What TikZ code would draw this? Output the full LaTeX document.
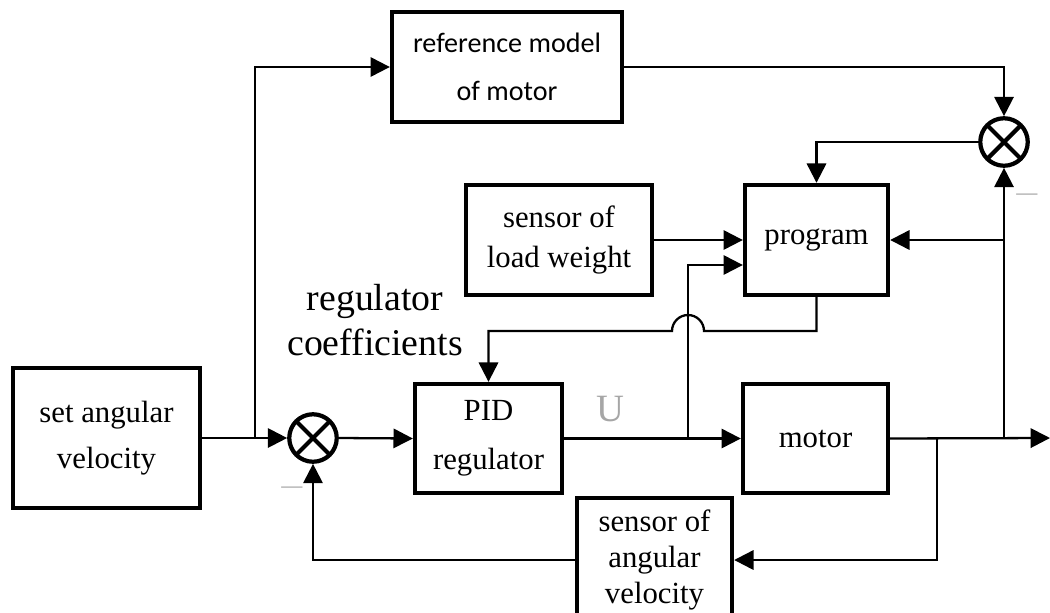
\documentclass[tikz,border=0pt]{standalone}
\usepackage{fontspec}
\setmainfont{Liberation Serif}
\newfontfamily\calibrifont{Carlito}
\usetikzlibrary{arrows.meta}

\begin{document}
\begin{tikzpicture}[
    x=0.02cm, y=-0.02cm,
    block/.style={rectangle, draw, line width=2.5pt, align=center, minimum height=2.2cm, font=\fontsize{17.5}{26}\selectfont},
    summer/.style={circle, draw, line width=2.4pt, minimum size=0.95cm, inner sep=0pt,
        path picture={\draw[line width=2.4pt] (path picture bounding box.north west) -- (path picture bounding box.south east)
            (path picture bounding box.north east) -- (path picture bounding box.south west);}},
    flow/.style={-{Triangle[length=11pt,width=11pt]}, line width=1.3pt},
    minus/.style={font=\fontsize{12}{12}\selectfont, text=gray!80}
]
\useasboundingbox (0,0) rectangle (1050,612);

% Blocks
\node[block, minimum width=3.74cm, minimum height=2.8cm] (setv) at (106.5,438) {set angular\\velocity};
\node[block, minimum width=4.6cm, font=\calibrifont\fontsize{16}{27}\selectfont] (refm) at (507,67) {reference model\\of motor};
\node[block, minimum width=3.72cm, font=\fontsize{17.5}{23}\selectfont] (load) at (559,240) {sensor of\\load weight};
\node[block, minimum width=2.86cm] (prog) at (816.5,240) {program};
\node[block, minimum width=2.94cm, minimum height=2.18cm, font=\fontsize{17.5}{28}\selectfont] (pid) at (488.5,438.5) {PID\\regulator};
\node[block, minimum width=2.9cm, minimum height=2.18cm] (motor) at (815.5,438.5) {motor};
\node[block, minimum width=3.1cm, minimum height=2.48cm, font=\fontsize{17.5}{20.5}\selectfont] (sav) at (654.5,560) {sensor of\\angular\\velocity};

% Summing points
\node[summer] (sum1) at (313,438) {};
\node[summer] (sum2) at (1004,142) {};
\node[minus] (m1) at (292,490) {---};
\node[minus] (m2) at (1027,197) {---};

% Labels
\node[font=\fontsize{21.5}{26}\selectfont, align=center] (coef) at (375,320) {regulator\\coefficients};
\node[font=\fontsize{22}{22}\selectfont, text=gray!70] (u) at (610,409) {U};

% Branch points
\coordinate (b1) at (255,438);
\coordinate (b2) at (688,438);
\coordinate (b3) at (1004,438);
\coordinate (b4) at (937,438);
\coordinate (hop) at (688,331);
\coordinate (out) at (1050,438);

% Forward path
\draw[flow] (setv.east) -- (sum1.west);
\draw[flow] (b1) |- (refm.west);
\draw[flow] (sum1.east) -- (pid.west);
\draw[flow] (pid.east) -- (motor.west);
\draw[flow] (motor.east) -- (out);

% Model and program loop
\draw[flow] (refm.east) -| (sum2.north);
\draw[flow] (sum2.west) -| (prog.north);
\draw[flow] (load.east) -- (prog.west);
\draw[flow] (b2) |- ([yshift=-0.5cm]prog.west);
\draw[flow] (b3) -- (sum2.south);
\draw[flow] (sum2.south |- prog.east) -- (prog.east);
\draw[flow] (prog.south) |- ([xshift=0.32cm]hop) arc[start angle=0, end angle=180, radius=0.32cm] -| (pid.north);

% Speed feedback
\draw[flow] (b4) |- (sav.east);
\draw[flow] (sav.west) -| (sum1.south);

\end{tikzpicture}
\end{document}
